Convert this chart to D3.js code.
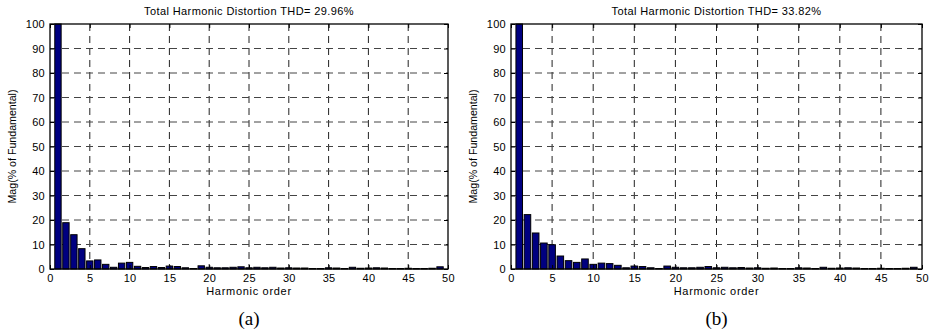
<!DOCTYPE html>
<html>
<head>
  <meta charset="utf-8">
  <title>Harmonic spectra</title>
  <script src="https://d3js.org/d3.v7.min.js"></script>
  <style>
    body { margin: 0; background: #fff; }
    text { font-family: "Liberation Sans", Arial, sans-serif; fill: #000; }
  </style>
</head>
<body>
  <script>
    // harmonic orders 1..49
    var orders = d3.range(1, 50);

    // magnitudes (% of fundamental)
    var magA = [100, 18.9, 14.0, 8.3, 3.3, 3.7, 1.9, 0.7, 2.4, 2.7,
                1.1, 0.6, 1.0, 0.6, 1.2, 1.0, 0.5, 0.2, 1.3, 0.7,
                0.5, 0.5, 0.7, 0.9, 0.5, 0.7, 0.5, 0.7, 0.4, 0.5,
                0.4, 0.4, 0.2, 0.2, 0.5, 0.4, 0.2, 0.7, 0.3, 0.4,
                0.5, 0.4, 0.2, 0.2, 0.3, 0.2, 0.2, 0.3, 0.9];
    var magB = [100, 22.2, 14.7, 10.6, 9.9, 5.3, 3.4, 2.7, 4.1, 1.9,
                2.4, 2.2, 1.5, 0.5, 1.2, 1.0, 0.5, 0.2, 1.2, 0.7,
                0.5, 0.5, 0.7, 1.0, 0.5, 0.7, 0.5, 0.6, 0.4, 0.5,
                0.3, 0.4, 0.2, 0.2, 0.5, 0.4, 0.2, 0.7, 0.3, 0.4,
                0.5, 0.4, 0.2, 0.2, 0.3, 0.2, 0.2, 0.3, 0.7];

    var titles = ['Total Harmonic Distortion THD= 29.96%',
                  'Total Harmonic Distortion THD= 33.82%'];
    var captions = ['(a)', '(b)'];
    var xTicks = d3.range(0, 51, 5);
    var yTicks = d3.range(0, 101, 10);

    var width = 934, height = 335;

    var svg = d3.select('body')
          .append('svg')
          .attr('width', width)
          .attr('height', height);

    // one panel per plot
    function drawPanel(left, right, values, title, caption) {
      var top = 24, bottom = 269;
      var x = d3.scaleLinear().domain([0, 50]).range([left, right]);
      var y = d3.scaleLinear().domain([0, 100]).range([bottom, top]);
      var g = svg.append('g');

      // grid
      g.selectAll('line.gx')
        .data(xTicks.slice(1, -1))
        .enter().append('line')
        .attr('x1', function (d) { return x(d); })
        .attr('x2', function (d) { return x(d); })
        .attr('y1', top).attr('y2', bottom)
        .attr('stroke', '#222').attr('stroke-width', 1)
        .attr('stroke-dasharray', '7,5');
      g.selectAll('line.gy')
        .data(yTicks.slice(1, -1))
        .enter().append('line')
        .attr('x1', left).attr('x2', right)
        .attr('y1', function (d) { return y(d); })
        .attr('y2', function (d) { return y(d); })
        .attr('stroke', '#444').attr('stroke-width', 1)
        .attr('stroke-dasharray', '7,5');

      // bars
      var bw = (x(1) - x(0)) * 0.8;
      g.append('g')
        .selectAll('rect')
        .data(orders)
        .enter().append('rect')
        .attr('x', function (d) { return x(d) - bw / 2; })
        .attr('width', bw)
        .attr('y', function (d, i) { return y(Math.min(values[i], 100)); })
        .attr('height', function (d, i) { return bottom - y(Math.min(values[i], 100)); })
        .attr('fill', '#000080')
        .attr('stroke', '#000')
        .attr('stroke-width', 1);

      // axes, ticks inside
      g.append('g')
        .attr('transform', 'translate(0,' + bottom + ')')
        .call(d3.axisBottom(x).tickValues(xTicks).tickSizeInner(-4).tickSizeOuter(0).tickPadding(5))
        .call(function (a) { a.select('.domain').remove(); })
        .selectAll('text').style('font-size', '11px').style('letter-spacing', '0.3px');
      g.append('g')
        .attr('transform', 'translate(' + left + ',0)')
        .call(d3.axisLeft(y).tickValues(yTicks).tickSizeInner(-4).tickSizeOuter(0).tickPadding(5))
        .call(function (a) { a.select('.domain').remove(); })
        .selectAll('text').style('font-size', '11px').style('letter-spacing', '0.3px');
      g.append('g')
        .attr('transform', 'translate(0,' + top + ')')
        .call(d3.axisTop(x).tickValues(xTicks).tickSizeInner(-4).tickSizeOuter(0).tickFormat(''))
        .call(function (a) { a.select('.domain').remove(); });
      g.append('g')
        .attr('transform', 'translate(' + right + ',0)')
        .call(d3.axisRight(y).tickValues(yTicks).tickSizeInner(-4).tickSizeOuter(0).tickFormat(''))
        .call(function (a) { a.select('.domain').remove(); });

      // box
      g.append('rect')
        .attr('x', left).attr('y', top)
        .attr('width', right - left).attr('height', bottom - top)
        .attr('fill', 'none').attr('stroke', '#000').attr('stroke-width', 1.3);

      var cx = (left + right) / 2;
      g.append('text')
        .attr('x', cx).attr('y', 15)
        .attr('text-anchor', 'middle')
        .style('font-size', '11px')
        .style('letter-spacing', '0.4px')
        .text(title);
      g.append('text')
        .attr('x', cx).attr('y', 295)
        .attr('text-anchor', 'middle')
        .style('font-size', '11px')
        .style('letter-spacing', '0.7px')
        .text('Harmonic order');
      g.append('text')
        .attr('transform', 'translate(' + (left - 34) + ',' + ((top + bottom) / 2) + ') rotate(-90)')
        .attr('text-anchor', 'middle')
        .attr('textLength', 114)
        .attr('lengthAdjust', 'spacingAndGlyphs')
        .style('font-size', '10px')
        .text('Mag(% of Fundamental)');
      g.append('text')
        .attr('x', cx).attr('y', 325)
        .attr('text-anchor', 'middle')
        .style('font-family', '"Liberation Serif", serif')
        .style('font-size', '19px')
        .text(caption);
    }

    drawPanel(50, 448, magA, titles[0], captions[0]);
    drawPanel(511, 922, magB, titles[1], captions[1]);
  </script>
</body>
</html>
